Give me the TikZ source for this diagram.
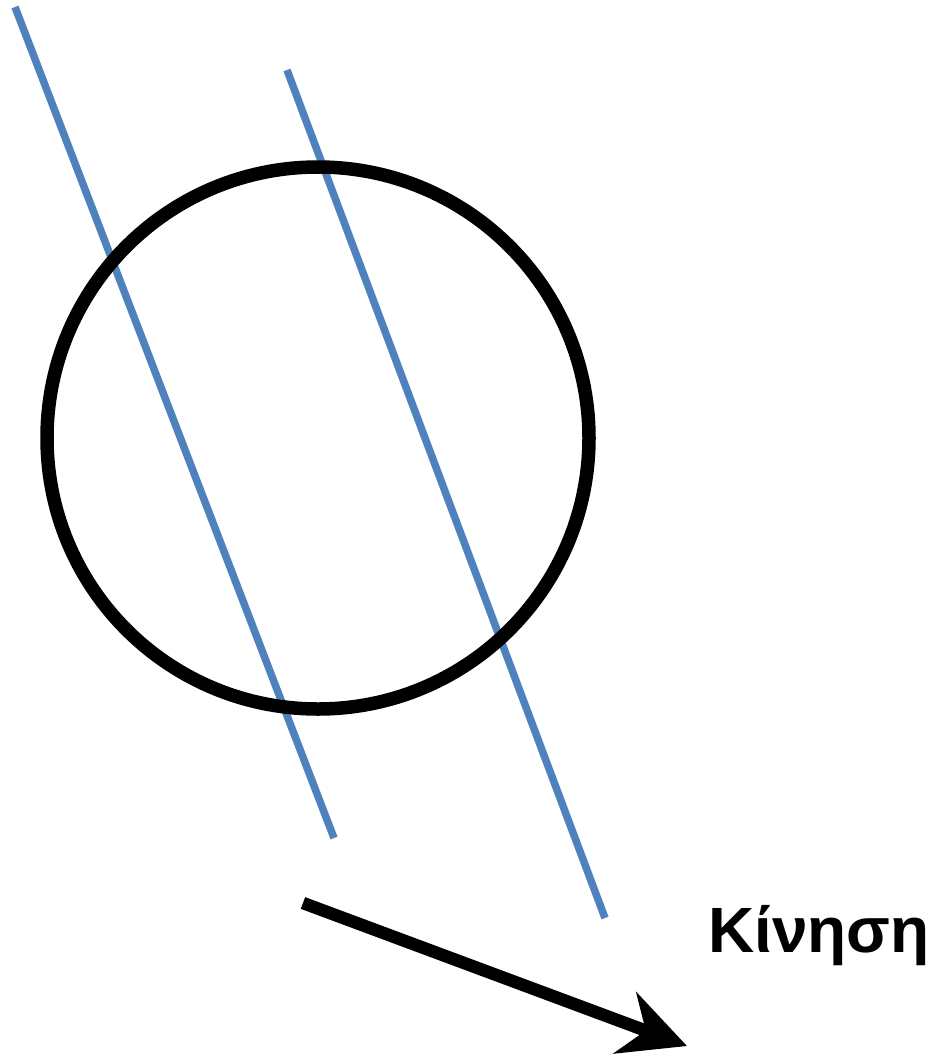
\documentclass[tikz,border=0pt]{standalone}
\usepackage{fontspec}
\setmainfont{Liberation Sans}[BoldFont={Liberation Sans Bold}]
\usetikzlibrary{arrows.meta}
\definecolor{rayblue}{HTML}{4F81BD}
\begin{document}
\begin{tikzpicture}[x=1pt, y=-1pt,
  ray/.style={draw=rayblue, line width=7.5pt},
  body/.style={draw=black, line width=13.5pt},
  motion/.style={-{Stealth[length=66pt, width=65pt, inset=22pt]}, line width=12.5pt},
  label/.style={font=\fontsize{64}{68}\selectfont\bfseries, inner sep=0pt},
]
\useasboundingbox (0,0) rectangle (935,1055);

% rays
\coordinate (r1a) at (15,7);
\coordinate (r1b) at (334,838);
\coordinate (r2a) at (287,70);
\coordinate (r2b) at (605,918);
\draw[ray] (r1a) -- (r1b);
\draw[ray] (r2a) -- (r2b);

% body
\draw[body] (318,438) circle[radius=271pt];

% motion
\coordinate (m1) at (303,903);
\coordinate (m2) at (687,1046);
\draw[motion] (m1) -- (m2);
\node[label, anchor=base east] (kin) at (930,952) {Κίνηση};

\end{tikzpicture}
\end{document}
